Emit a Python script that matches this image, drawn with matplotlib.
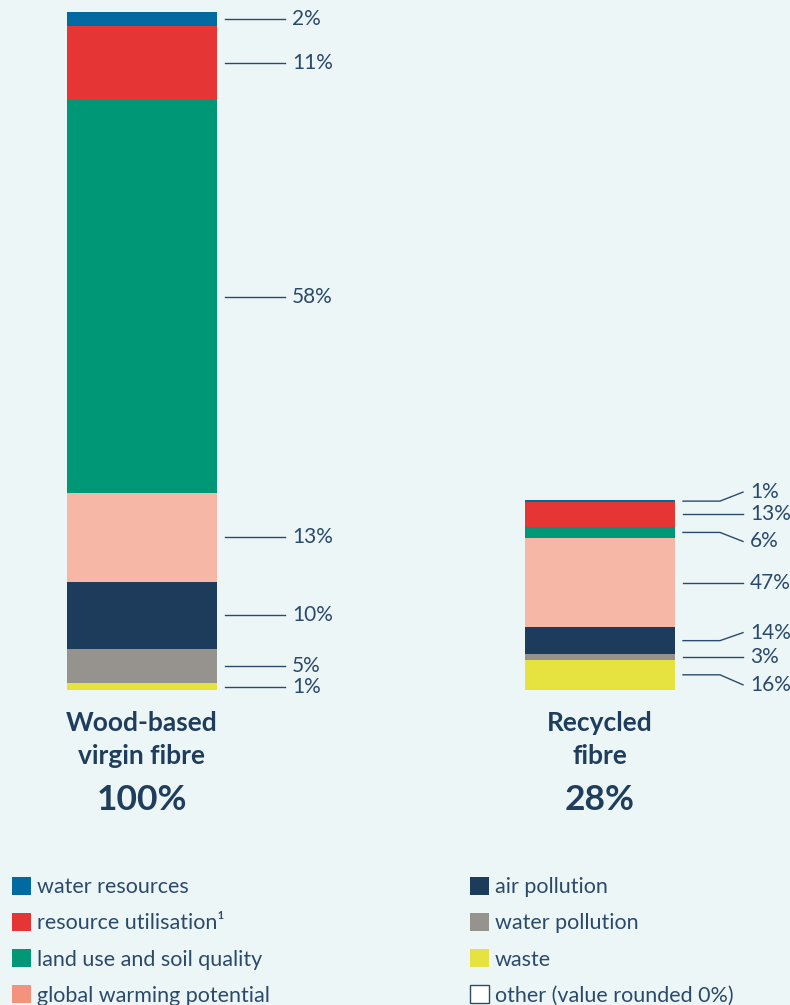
import matplotlib.pyplot as plt
import matplotlib.patches as mpatches

# data
categories = ["water resources", "resource utilisation\u00b9", "land use and soil quality",
              "global warming potential", "air pollution", "water pollution", "waste"]
bar_names = ["Wood-based\nvirgin fibre", "Recycled\nfibre"]
bar_totals = [100, 28]
# shares within each bar (%), same order as categories (top to bottom)
virgin_share = [2, 11, 58, 13, 10, 5, 1]
recycled_share = [1, 13, 6, 47, 14, 3, 16]

colors = ["#0269a1", "#e63535", "#009777", "#f7b7a6", "#1d3c5c", "#96938e", "#e6e340"]
legend_colors = ["#0269a1", "#e63535", "#009777", "#f4937d", "#1d3c5c", "#96938e", "#e6e340"]
bg = "#edf6f7"
txt = "#2b4a6b"
navy = "#1f3d5c"

plt.rcParams['font.family'] = ['Lato', 'DejaVu Sans']

fig = plt.figure(figsize=(7.9, 10.05), dpi=100, facecolor=bg)
ax = fig.add_axes([0, 0, 1, 1])
ax.set_facecolor(bg)
PX_X = 458.0   # pixels per x unit
PX_Y = 6.78    # pixels per y unit
ax.set_xlim(-142 / PX_X, 648 / PX_X)
ax.set_ylim(-315 / PX_Y, 100 + 12 / PX_Y)
ax.axis("off")

def dx(p):
    return p / PX_X

def dy(p):
    return p / PX_Y

width = 150 / PX_X
shares = [virgin_share, recycled_share]
# label shifts in pixels for the recycled bar (up positive), layout only
shifts = [[0, 0, 0, 0, 0, 0, 0], [9, 0, -9, 0, 8, 0, -10]]

for i, (share, total) in enumerate(zip(shares, bar_totals)):
    vals = [s * total / 100 for s in share]
    # stack from bottom (last category) upwards
    bottom = 0
    centers = {}
    for k in range(len(vals) - 1, -1, -1):
        ax.bar(i, vals[k], width=width, bottom=bottom, color=colors[k], linewidth=0)
        centers[k] = bottom + vals[k] / 2
        bottom += vals[k]
    x0 = i + width / 2 + dx(8)
    xe = x0 + dx(37)
    x1 = x0 + dx(60)
    for k in range(len(vals)):
        yc = centers[k]
        yl = yc + dy(shifts[i][k])
        if shifts[i][k] == 0:
            ax.plot([x0, x1], [yc, yc], color=txt, lw=1)
        else:
            ax.plot([x0, xe, x1], [yc, yc, yl], color=txt, lw=1)
        ax.text(x1 + dx(7), yl, f"{share[k]}%", ha="left", va="center",
                fontsize=15, color=txt)
    ax.text(i, dy(-49), bar_names[i], ha="center", va="center", fontsize=19,
            fontweight="bold", color=navy, linespacing=1.45)
    ax.text(i, dy(-110), f"{total}%", ha="center", va="center", fontsize=25.5,
            fontweight="bold", color=navy)

# legend
handles = [mpatches.Patch(facecolor=c, edgecolor="none") for c in legend_colors]
handles.append(mpatches.Patch(facecolor="white", edgecolor=txt, linewidth=1))
labels = categories + ["other (value rounded 0%)"]

kw = dict(frameon=False, fontsize=15.5, handlelength=0.9, handleheight=0.9,
          handletextpad=0.25, labelspacing=0.73, borderpad=0, borderaxespad=0,
          labelcolor=txt, loc="upper left", bbox_transform=fig.transFigure)
leg1 = ax.legend(handles[:4], labels[:4], bbox_to_anchor=(12 / 790, 1 - 877 / 1005), **kw)
ax.add_artist(leg1)
ax.legend(handles[4:], labels[4:], bbox_to_anchor=(470 / 790, 1 - 877 / 1005), **kw)

fig.savefig("out.png", dpi=100, facecolor=bg)
